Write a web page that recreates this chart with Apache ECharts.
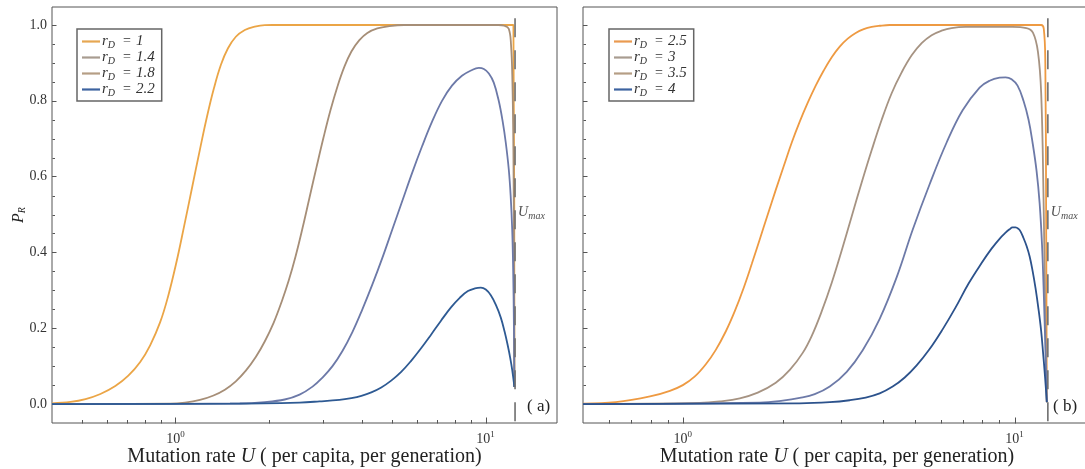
<!DOCTYPE html>
<html><head><meta charset="utf-8">
<script src="https://cdn.jsdelivr.net/npm/echarts@6/dist/echarts.min.js"></script>
<style>html,body{margin:0;padding:0;background:#fff}#c{width:1085px;height:469px}</style>
</head><body><div id="c"></div>
<script>
// ---------------- data ----------------
const rDa = [1, 1.4, 1.8, 2.2];
const rDb = [2.5, 3, 3.5, 4];
const colorsA = ['#EBA546', '#A68E77', '#6C79A8', '#2E5A93'];
const colorsB = ['#EE9A42', '#A69382', '#6D7AA8', '#2C528C'];
const legendColorsA = ['#E6A752', '#A89C90', '#B59E85', '#3D63A0'];
const legendColorsB = ['#EA9A50', '#A89C90', '#B59E85', '#3D63A0'];

// panel (a)
const Ua1 = [0.4, 0.459, 0.513, 0.573, 0.640, 0.705, 0.770, 0.829, 0.893, 0.947, 1.005, 1.066, 1.131, 1.200, 1.264, 1.331, 1.402, 1.476, 1.566, 1.674, 1.803, 1.941, 2.169, 3, 5, 8, 11, 12.3, 12.39];
const Pa1 = [0.002, 0.0056, 0.0131, 0.0266, 0.0476, 0.0749, 0.1109, 0.155, 0.216, 0.284, 0.370, 0.468, 0.570, 0.672, 0.758, 0.833, 0.895, 0.938, 0.969, 0.987, 0.996, 0.9998, 1, 1, 1, 1, 1, 1, 0.045];
const Ua2 = [0.4, 0.962, 1.074, 1.200, 1.321, 1.444, 1.566, 1.687, 1.816, 1.941, 2.075, 2.201, 2.318, 2.441, 2.571, 2.707, 2.851, 3.003, 3.162, 3.331, 3.507, 3.694, 3.919, 4.158, 4.477, 4.892, 5.466, 8, 11.0, 11.5, 11.88, 12.08, 12.21, 12.30, 12.36, 12.39];
const Pa2 = [0, 0.001, 0.004, 0.011, 0.022, 0.038, 0.060, 0.088, 0.124, 0.165, 0.215, 0.27, 0.325, 0.39, 0.465, 0.545, 0.625, 0.703, 0.775, 0.838, 0.89, 0.93, 0.96, 0.979, 0.991, 0.997, 1.0, 1.0, 1.0, 0.998, 0.99, 0.95, 0.85, 0.67, 0.35, 0.045];
const Ua3 = [0.4, 1.613, 1.941, 2.251, 2.514, 2.768, 2.981, 3.210, 3.456, 3.721, 4.007, 4.314, 4.645, 5.001, 5.385, 5.799, 6.243, 6.723, 7.239, 7.794, 8.393, 8.973, 9.517, 9.876, 10.25, 10.63, 11.03, 11.36, 11.62, 11.88, 12.05, 12.19, 12.28, 12.34, 12.39];
const Pa3 = [0, 0.0015, 0.005, 0.012, 0.025, 0.046, 0.07, 0.10, 0.14, 0.19, 0.25, 0.315, 0.385, 0.46, 0.535, 0.61, 0.68, 0.745, 0.80, 0.84, 0.866, 0.88, 0.887, 0.884, 0.872, 0.848, 0.80, 0.745, 0.69, 0.62, 0.55, 0.46, 0.35, 0.22, 0.045];
const Ua4 = [0.4, 1.5, 2.514, 2.915, 3.380, 3.694, 3.978, 4.282, 4.611, 4.964, 5.346, 5.756, 6.197, 6.673, 7.185, 7.738, 8.271, 8.774, 9.241, 9.659, 10.02, 10.40, 10.79, 11.20, 11.53, 11.79, 12.01, 12.19, 12.39];
const Pa4 = [0, 0.001, 0.004, 0.007, 0.011, 0.0158, 0.0218, 0.0308, 0.0438, 0.0618, 0.0848, 0.114, 0.147, 0.183, 0.220, 0.255, 0.281, 0.298, 0.305, 0.307, 0.302, 0.287, 0.262, 0.228, 0.19, 0.155, 0.122, 0.09, 0.045];

// panel (b)
const Ub1 = [0.5, 0.628, 0.796, 0.914, 1.0, 1.087, 1.173, 1.257, 1.348, 1.434, 1.526, 1.614, 1.706, 1.803, 1.906, 2.015, 2.130, 2.251, 2.380, 2.515, 2.659, 2.811, 2.971, 3.141, 3.320, 3.510, 3.710, 3.921, 4.203, 6, 9, 12.03, 12.25, 12.38, 12.45, 12.51];
const Pb1 = [0.001, 0.005, 0.02, 0.035, 0.05, 0.073, 0.105, 0.143, 0.192, 0.245, 0.307, 0.37, 0.435, 0.50, 0.565, 0.628, 0.69, 0.745, 0.795, 0.84, 0.88, 0.915, 0.943, 0.964, 0.979, 0.989, 0.995, 0.998, 1, 1, 1, 1.0, 0.99, 0.9, 0.5, 0.005];
const Ub2 = [0.5, 1.125, 1.292, 1.485, 1.682, 1.906, 2.101, 2.298, 2.447, 2.623, 2.811, 3.012, 3.228, 3.462, 3.710, 3.976, 4.261, 4.567, 4.896, 5.247, 5.623, 6.026, 6.459, 7.119, 9.86, 10.85, 11.36, 11.76, 12.03, 12.23, 12.40, 12.51];
const Pb2 = [0, 0.003, 0.007, 0.015, 0.030, 0.056, 0.09, 0.135, 0.18, 0.245, 0.32, 0.405, 0.495, 0.585, 0.67, 0.75, 0.82, 0.875, 0.92, 0.952, 0.973, 0.985, 0.992, 0.995, 0.995, 0.992, 0.98, 0.93, 0.82, 0.54, 0.19, 0.005];
const Ub3 = [0.5, 1.706, 2.0, 2.251, 2.498, 2.773, 3.119, 3.485, 3.921, 4.413, 4.930, 5.546, 6.241, 6.973, 7.845, 8.408, 9.012, 9.395, 9.795, 10.21, 10.64, 11.02, 11.33, 11.65, 11.90, 12.10, 12.26, 12.40, 12.51];
const Pb3 = [0, 0.004, 0.009, 0.016, 0.026, 0.046, 0.085, 0.142, 0.225, 0.335, 0.46, 0.58, 0.69, 0.775, 0.835, 0.853, 0.861, 0.862, 0.857, 0.84, 0.80, 0.75, 0.69, 0.615, 0.53, 0.42, 0.28, 0.13, 0.005];
const Ub4 = [0.5, 2.251, 2.773, 3.184, 3.558, 3.921, 4.291, 4.665, 5.068, 5.546, 6.069, 6.642, 7.268, 7.954, 8.525, 9.012, 9.395, 9.658, 9.862, 10.07, 10.28, 10.43, 10.64, 10.87, 11.10, 11.33, 11.57, 11.81, 12.02, 12.19, 12.36, 12.51];
const Pb4 = [0, 0.002, 0.005, 0.01, 0.017, 0.028, 0.046, 0.07, 0.102, 0.145, 0.197, 0.255, 0.318, 0.372, 0.41, 0.436, 0.452, 0.461, 0.466, 0.466, 0.462, 0.455, 0.438, 0.417, 0.39, 0.352, 0.305, 0.25, 0.195, 0.135, 0.07, 0.005];

const UmaxA = 12.45, UmaxB = 12.6;
const UmaxLabelP = 0.505;
const xMinA = 0.4, xMinB = 0.5, xMax = 17;
const yMin = -0.05, yMax = 1.0475;
const UmaxTop = 1.018;
const yMajorTicks = [0, 0.2, 0.4, 0.6, 0.8, 1.0];
const yMinorTicks = [0.05, 0.1, 0.15, 0.25, 0.3, 0.35, 0.45, 0.5, 0.55, 0.65, 0.7, 0.75, 0.85, 0.9, 0.95];
const xMajorTicks = [1, 10];
const xMinorTicks = [0.5, 0.6, 0.7, 0.8, 0.9, 2, 3, 4, 5, 6, 7, 8, 9];
const xTitleParts = ['Mutation rate ', 'U', ' ( per capita, per generation)'];

// ---------------- build ----------------
const SERIF = "'Liberation Serif', 'Times New Roman', serif";
const zip = (U, P) => U.map((u, i) => [u, P[i]]);
const nameOf = v => 'r_D = ' + v;
const dataA = [zip(Ua1, Pa1), zip(Ua2, Pa2), zip(Ua3, Pa3), zip(Ua4, Pa4)];
const dataB = [zip(Ub1, Pb1), zip(Ub2, Pb2), zip(Ub3, Pb3), zip(Ub4, Pb4)];

const chart = echarts.init(document.getElementById('c'), null, {renderer: 'canvas'});

function curveSeries(vals, datas, colors, idx) {
  return vals.map((v, i) => ({
    type: 'line', name: nameOf(v), xAxisIndex: idx, yAxisIndex: idx,
    data: datas[i], showSymbol: false, symbol: 'none', smooth: 0.4,
    lineStyle: {color: colors[i], width: 1.8}, itemStyle: {color: colors[i]},
    z: 3, silent: true
  }));
}

function tickSeries(idx, xmin) {
  const data = [];
  xMajorTicks.forEach(v => data.push([v, yMin, 1, 0]));
  xMinorTicks.forEach(v => { if (v > xmin) data.push([v, yMin, 0, 0]); });
  yMinorTicks.forEach(v => data.push([xmin, v, 0, 1]));
  return {
    type: 'custom', xAxisIndex: idx, yAxisIndex: idx, silent: true, z: 5,
    encode: {x: 0, y: 1},
    data: data,
    renderItem: function (params, api) {
      const p = api.coord([api.value(0), api.value(1)]);
      const major = api.value(2) === 1, isY = api.value(3) === 1;
      const L = major ? 6 : 3.5;
      const x = Math.round(p[0]) + 0.5, y = Math.round(p[1]) + 0.5;
      const shape = isY ? {x1: x, y1: y, x2: x + 2.5, y2: y} : {x1: x, y1: y, x2: x, y2: y - L};
      return {type: 'line', shape: shape, style: {stroke: '#555', lineWidth: 1}};
    }
  };
}

function umaxSeries(idx, umax) {
  return [{
    type: 'line', xAxisIndex: idx, yAxisIndex: idx, silent: true, z: 6,
    data: [[umax, UmaxTop], [umax, yMin]], symbol: 'none',
    lineStyle: {color: '#6e6e6e', width: 1.6, type: [19, 13]}
  }, {
    type: 'scatter', xAxisIndex: idx, yAxisIndex: idx, silent: true, z: 7,
    data: [[umax, UmaxLabelP]], symbolSize: 0,
    label: {show: true, position: 'right', distance: 3,
      formatter: '{u|U}{m|max}',
      rich: {u: {fontFamily: SERIF, fontStyle: 'italic', fontSize: 14, color: '#222'},
             m: {fontFamily: SERIF, fontStyle: 'italic', fontSize: 10, color: '#222', padding: [7, 0, 0, 0]}}}
  }];
}

const legendFormatter = n => '{r|r}{d|D}{e|=}{r|' + n.split('= ')[1] + '}';
const legendRich = {
  r: {fontFamily: SERIF, fontStyle: 'italic', fontSize: 15, color: '#333', lineHeight: 14},
  d: {fontFamily: SERIF, fontStyle: 'italic', fontSize: 10, color: '#333', lineHeight: 14, padding: [7, 0, 0, 0]},
  e: {fontFamily: SERIF, fontSize: 14, color: '#333', lineHeight: 14, padding: [0, 5, 0, 8]}
};
function legend(vals, lcolors, left) {
  return {
    left: left, top: 29, orient: 'vertical', icon: 'rect', itemWidth: 18, itemHeight: 2.2,
    itemGap: -1, padding: [4, 7, 3, 5], backgroundColor: '#fff', borderColor: '#666', borderWidth: 1.5,
    selectedMode: false,
    data: vals.map((v, i) => ({name: nameOf(v), itemStyle: {color: lcolors[i]}})),
    formatter: legendFormatter,
    textStyle: {rich: legendRich, padding: [0, 0, 0, -3]}
  };
}

const xLabel = v => {
  const l = Math.log10(v);
  if (Math.abs(l - Math.round(l)) > 1e-6) return '';
  return '{b|10}{s|' + Math.round(l) + '}';
};
const xLabelRich = {
  b: {fontFamily: SERIF, fontSize: 14, color: '#333'},
  s: {fontFamily: SERIF, fontSize: 9, color: '#333', padding: [0, 0, 9, 0]}
};
const xTitle = '{n|' + xTitleParts[0] + '}{i|' + xTitleParts[1] + '}{n|' + xTitleParts[2] + '}';
const xTitleRich = {
  n: {fontFamily: SERIF, fontSize: 20, color: '#222'},
  i: {fontFamily: SERIF, fontSize: 20, fontStyle: 'italic', color: '#222'}
};

function xAxis(idx, xmin) {
  return {
    type: 'log', logBase: 10, gridIndex: idx, min: xmin, max: xMax,
    axisLine: {show: false}, axisTick: {show: false}, splitLine: {show: false},
    axisLabel: {formatter: xLabel, rich: xLabelRich, margin: 7, showMinLabel: false, showMaxLabel: false},
    name: xTitle, nameLocation: 'middle', nameGap: 24, nameMoveOverlap: false, nameTextStyle: {rich: xTitleRich}
  };
}
function yAxis(idx, labels) {
  const ax = {
    type: 'value', gridIndex: idx, min: yMin, max: yMax,
    axisLine: {show: false}, splitLine: {show: false},
    axisTick: {show: true, inside: true, length: 4.5, customValues: yMajorTicks, lineStyle: {color: '#555'}},
    axisLabel: {show: labels, customValues: yMajorTicks, formatter: v => v.toFixed(1),
      fontFamily: SERIF, fontSize: 14, color: '#333', margin: 5}
  };
  if (labels) {
    ax.name = '{p|P}{s|R}';
    ax.nameLocation = 'middle'; ax.nameRotate = 90; ax.nameGap = 25; ax.nameMoveOverlap = false;
    ax.nameTextStyle = {rich: {
      p: {fontFamily: SERIF, fontStyle: 'italic', fontSize: 16, color: '#222'},
      s: {fontFamily: SERIF, fontStyle: 'italic', fontSize: 10, color: '#222', padding: [7, 0, 0, 0]}}};
  }
  return ax;
}

const gridBase = {top: 7, height: 416, show: true, borderColor: '#555', borderWidth: 1, backgroundColor: '#fff',
  containLabel: false, outerBoundsMode: 'none'};
const option = {
  animation: false,
  backgroundColor: '#fff',
  grid: [
    Object.assign({left: 52, width: 505}, gridBase),
    Object.assign({left: 583, width: 508}, gridBase)
  ],
  xAxis: [xAxis(0, xMinA), xAxis(1, xMinB)],
  yAxis: [yAxis(0, true), yAxis(1, false)],
  legend: [legend(rDa, legendColorsA, 77), legend(rDb, legendColorsB, 609)],
  graphic: [
    {type: 'text', left: 527, top: 398, style: {text: '( a)', font: '17px ' + SERIF, fill: '#222'}},
    {type: 'text', left: 1053, top: 398, style: {text: '( b)', font: '17px ' + SERIF, fill: '#222'}}
  ],
  series: [].concat(
    curveSeries(rDa, dataA, colorsA, 0),
    curveSeries(rDb, dataB, colorsB, 1),
    [tickSeries(0, xMinA), tickSeries(1, xMinB)],
    umaxSeries(0, UmaxA), umaxSeries(1, UmaxB)
  )
};
chart.setOption(option);
</script></body></html>
